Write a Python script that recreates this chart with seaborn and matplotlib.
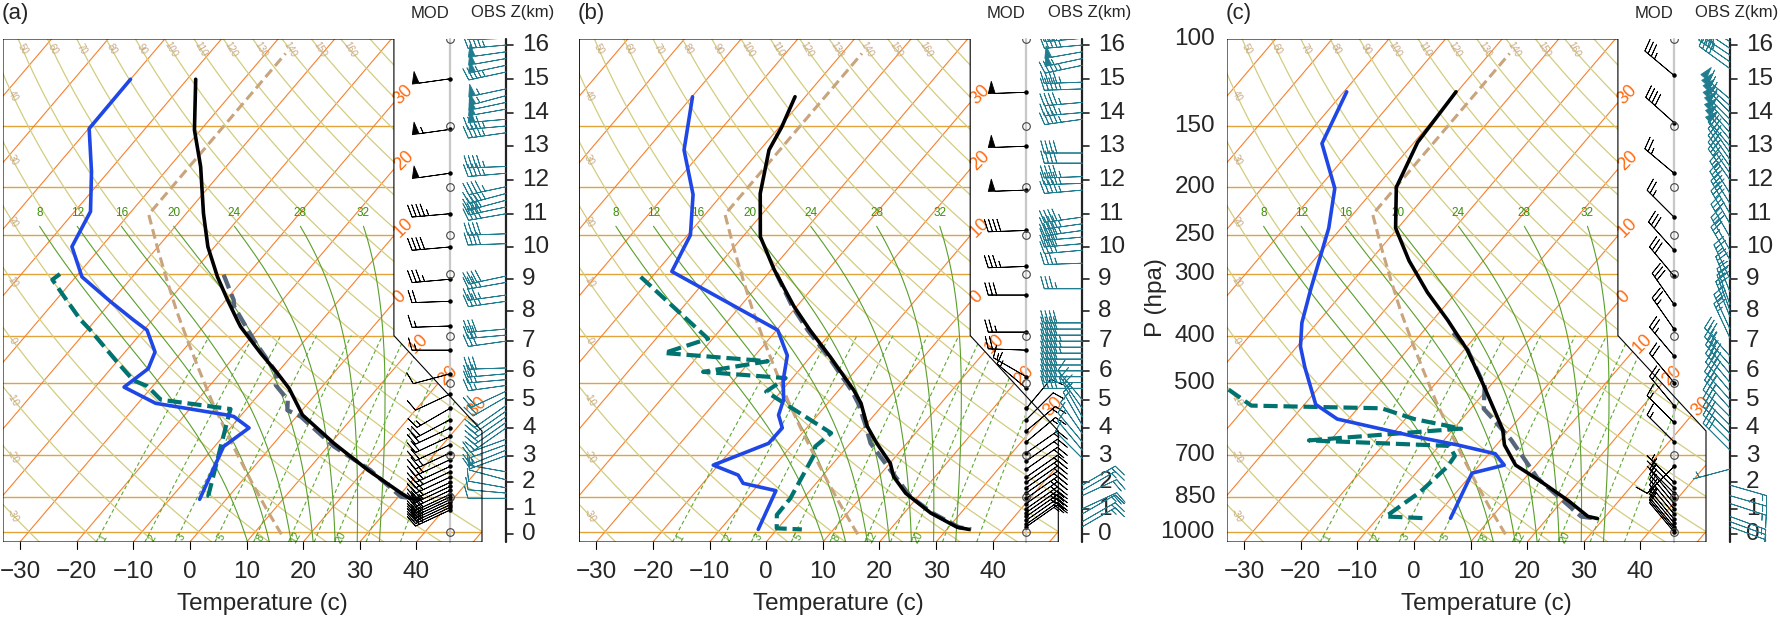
import numpy as np
import matplotlib
matplotlib.use("Agg")
import matplotlib.pyplot as plt
import seaborn as sns
from matplotlib.patches import Polygon

sns.set_theme(style="white")
plt.rcParams["font.family"] = ["Liberation Sans", "DejaVu Sans"]

# ---------------------------------------------------------------- data
# standard atmosphere reference curve (tan dashed)
std_p = [1013, 899, 795, 701, 617, 541, 472, 411, 357, 308, 265, 227, 107]
std_T = [15.0, 8.5, 2.0, -4.5, -11.0, -17.5, -24.0, -30.5, -37.0, -43.5, -50.0, -56.5, -56.5]

# panel (a)
a_T_p = [120.7, 153, 181.6, 225.8, 264, 303.8, 338.8, 372, 383.8, 434.9, 477, 511.8, 579.9, 662, 750, 836, 856, 860]
a_T = [-68.5, -61.1, -54.5, -47.0, -41.2, -35.0, -29.7, -25.0, -23.4, -15.8, -9.9, -5.6, 0.8, 10.6, 20.6, 30.0, 32.2, 34.2]
a_To_p = [301, 339, 349, 409, 474, 489, 504.5, 540, 567, 584, 672, 750, 850, 860]
a_To = [-34.2, -28.6, -27.6, -19.0, -10.4, -9.2, -8.4, -4.1, -2.6, 0.7, 11.1, 21.0, 30.5, 34.5]
a_Td_p = [120.7, 152, 186, 224, 264, 304, 341, 372, 390, 432, 467, 509, 549, 580, 584, 616, 672, 860]
a_Td = [-80.0, -79.9, -73.0, -67.2, -65.2, -58.9, -50.2, -43.3, -39.4, -34.7, -33.4, -34.9, -26.9, -12.5, -11.1, -6.7, -8.4, -4.7]
a_Tdo_p = [300, 308, 339, 371, 390, 454, 493, 507, 540, 564, 580, 672, 846, 860]
a_Tdo = [-63.2, -63.7, -58.1, -52.8, -49.4, -39.7, -34.3, -30.9, -26.5, -12.8, -12.2, -8.9, -3.7, -2.2]

# panel (b)
b_T_p = [131, 151, 168, 206, 252, 294, 349, 390, 442, 516, 549, 612, 662, 727, 774, 836, 917, 980, 990]
b_T = [-61.8, -59.6, -58.4, -53.4, -46.9, -39.5, -30.5, -24.1, -16.5, -7.4, -4.1, 0.5, 4.7, 10.1, 12.7, 17.3, 24.7, 31.5, 33.9]
b_To_p = [299, 349, 390, 442, 516, 549, 607, 662, 750, 850, 917, 980, 990]
b_To = [-38.6, -30.8, -24.5, -16.8, -7.8, -4.6, -0.1, 3.6, 11.1, 18.7, 25.0, 31.8, 34.3]
b_Td_p = [131, 168, 207, 250, 296.5, 390, 439, 493, 540, 580, 616, 662, 733, 768, 798, 826, 990]
b_Td = [-79.9, -73.4, -65.1, -59.5, -57.3, -29.8, -24.3, -21.3, -18.3, -16.9, -14.3, -14.4, -20.9, -15.0, -12.9, -6.0, -3.3]
b_Tdo_p = [304, 406, 434, 451, 474, 488, 520, 631, 672, 695, 856, 925, 985, 990]
b_Tdo = [-62.0, -40.8, -46.4, -26.9, -36.7, -21.2, -22.6, -4.9, -5.7, -4.7, -2.3, -2.2, -0.2, 4.4]

# panel (c)
c_T_p = [128, 162, 200, 242, 282, 327, 372, 395, 428, 500, 567, 621, 667, 733, 792, 866, 932, 941]
c_T = [-60.2, -59.4, -56.4, -50.4, -43.1, -35.1, -27.4, -24.0, -19.4, -11.7, -5.6, -1.2, 1.4, 6.4, 13.4, 21.1, 26.9, 28.9]
c_To_p = [395, 421, 507, 563, 651, 682, 780, 932, 940]
c_To = [-24.5, -20.2, -10.9, -7.7, 1.8, 4.5, 12.3, 25.7, 28.3]
c_Td_p = [128, 163, 201, 242, 322, 377, 421, 464, 552, 591, 641, 667, 695, 733, 761, 940]
c_Td = [-79.5, -76.1, -67.1, -62.2, -56.2, -52.7, -49.4, -45.5, -38.0, -32.0, -15.8, -6.9, 1.1, 4.4, -0.1, 2.9]
c_Tdo_p = [490, 512, 555, 562, 591, 618, 653, 670, 702, 738, 830, 932, 940]
c_Tdo = [-64.0, -56.1, -49.2, -25.8, -18.4, -8.7, -33.8, -8.2, -5.7, -5.4, -6.4, -8.8, -1.1]

# winds: height (km), speed (kt), direction (deg)
a_mod_z = [15.0, 13.5, 12.2, 11.0, 10.0, 9.0, 8.3, 7.5, 6.7, 5.9, 5.2, 4.7, 4.3, 4.0, 3.7, 3.4, 3.1, 2.85, 2.6, 2.4,
           2.2, 2.0, 1.85, 1.7, 1.55, 1.45, 1.35, 1.25, 1.15, 1.05, 0.95]
a_mod_spd = [50, 55, 50, 45, 40, 35, 20, 15, 15, 10, 10, 15, 20, 20, 20, 20, 25, 25, 25, 25,
             25, 25, 25, 25, 25, 25, 25, 25, 25, 25, 25]
a_mod_dir = [262, 262, 262, 265, 265, 265, 268, 268, 270, 255, 245, 240, 242, 245, 245, 245, 245, 245, 245, 245,
             245, 245, 245, 245, 245, 245, 245, 245, 245, 245, 245]
a_obs_z = [16.2, 16.0, 15.8, 15.6, 15.4, 15.2, 14.7, 14.5, 14.3, 14.1, 13.8, 13.6, 13.4, 12.4, 12.2,
           11.8, 11.6, 11.4, 11.2, 11.0, 10.4, 10.1, 9.1, 8.9, 8.5, 8.3, 7.4, 7.2, 7.0, 6.1, 5.9, 5.7, 5.5,
           5.3, 5.1, 4.8, 4.6, 4.4, 4.2, 4.0, 3.6, 3.4, 3.2, 3.0, 2.4, 2.1, 1.8, 1.6, 1.4]
a_obs_spd = [45, 45, 50, 50, 50, 45, 55, 55, 50, 50, 50, 45, 45, 45, 45, 45, 45, 40, 40, 40, 40, 40, 40, 35,
             35, 35, 30, 30, 30, 30, 30, 25, 25, 20, 20, 20, 20, 20, 20, 20, 15, 15, 15, 15, 15, 10, 10, 10, 10]
a_obs_dir = [268, 265, 262, 260, 258, 258, 258, 255, 258, 260, 265, 265, 262, 268, 265, 258, 255, 255, 258, 260,
             268, 268, 258, 260, 262, 262, 265, 265, 262, 268, 265, 265, 262, 245, 240, 235, 235, 235, 235, 235,
             250, 250, 248, 250, 280, 285, 280, 275, 270]

b_mod_z = [14.6, 13.0, 11.7, 10.5, 9.4, 8.5, 7.3, 6.7, 5.8, 5.4, 4.7, 4.3, 3.9, 3.5, 3.1, 2.8, 2.5, 2.2, 2.0, 1.8,
           1.6, 1.4, 1.2, 1.0, 0.85, 0.7, 0.55, 0.4, 0.3]
b_mod_spd = [50, 50, 50, 40, 35, 30, 25, 20, 15, 15, 10, 10, 15, 15, 15, 15, 20, 20, 20, 20,
             20, 25, 25, 25, 25, 25, 20, 20, 15]
b_mod_dir = [268, 268, 268, 268, 268, 270, 270, 272, 300, 310, 40, 45, 50, 50, 55, 55, 55, 55, 55, 55,
             55, 55, 55, 55, 55, 55, 55, 55, 55]
b_obs_z = [16.2, 16.0, 15.8, 15.6, 15.4, 14.9, 14.7, 14.3, 14.0, 13.8, 12.8, 12.5, 12.1, 11.9, 11.7, 10.9, 10.7,
           10.5, 10.3, 10.1, 9.9, 9.5, 8.7, 7.6, 7.4, 7.2, 7.0, 6.8, 6.6, 6.4, 6.2, 6.0, 5.8, 5.6, 5.4,
           5.0, 4.7, 4.4, 4.1, 3.8, 3.5, 3.2, 2.9, 1.9, 1.7, 1.5, 1.0, 0.8, 0.5, 0.3]
b_obs_spd = [45, 45, 50, 50, 45, 45, 45, 45, 45, 45, 40, 40, 45, 45, 45, 45, 45, 45, 40, 40, 40, 35, 35,
             40, 40, 40, 45, 45, 45, 40, 40, 40, 45, 45, 40, 10, 15, 15, 15, 10, 10, 10, 10,
             15, 15, 20, 20, 15, 15, 15]
b_obs_dir = [265, 265, 260, 258, 258, 268, 268, 265, 265, 262, 270, 270, 268, 268, 265, 262, 262, 262, 265, 265,
             265, 268, 270, 270, 270, 270, 270, 270, 270, 270, 270, 270, 270, 270, 270,
             320, 325, 330, 330, 325, 320, 320, 315, 60, 60, 65, 65, 60, 60, 60]

c_mod_z = [15.1, 13.7, 12.2, 10.9, 9.9, 9.1, 8.2, 7.4, 6.5, 5.6, 4.8, 4.2, 3.5, 2.6, 2.0, 1.8, 1.6, 1.4, 1.2, 1.0,
           0.8, 0.6, 0.45, 0.3, 0.2, 0.1]
c_mod_spd = [35, 40, 25, 25, 30, 30, 30, 25, 25, 20, 20, 15, 15, 10, 5, 5, 5, 10, 10, 10, 10, 10, 10, 10, 10, 10]
c_mod_dir = [310, 312, 310, 315, 318, 320, 325, 325, 320, 320, 320, 315, 315, 225, 315, 315, 315, 320, 320, 320,
             320, 320, 320, 320, 320, 320]
c_obs_z = [16.3, 16.1, 15.9, 15.7, 15.5, 15.3, 14.4, 14.2, 14.0, 13.8, 13.6, 13.4, 13.2, 13.0, 12.8, 12.6, 12.4,
           12.2, 12.0, 11.6, 11.3, 11.0, 10.7, 10.3, 9.9, 9.6, 9.0, 8.6, 8.2, 8.0, 7.8, 7.4, 7.1, 6.5, 6.2, 5.9,
           5.6, 5.3, 5.0, 4.7, 4.4, 4.1, 3.8, 3.5, 3.2, 2.5, 1.9, 1.5, 1.2, 0.7, 0.5, 0.3]
c_obs_spd = [40, 40, 40, 45, 45, 40, 60, 65, 65, 60, 60, 55, 55, 50, 35, 35, 35, 30, 30, 30, 30, 30, 30, 30, 30, 25,
             25, 25, 25, 25, 25, 25, 25, 35, 35, 40, 40, 40, 35, 35, 35, 35, 30, 30, 30, 5, 15, 15, 15, 15, 10, 10]
c_obs_dir = [300, 302, 304, 304, 305, 306, 310, 312, 315, 315, 318, 318, 320, 320, 325, 325, 325, 325, 325,
             328, 328, 330, 330, 330, 330, 330, 335, 338, 340, 340, 338, 335, 335,
             318, 318, 320, 320, 320, 318, 318, 315, 315, 315, 315, 315, 255, 106, 106, 108, 110, 110, 110]

x_ticks = [-30, -20, -10, 0, 10, 20, 30, 40]
p_ticks = [100, 150, 200, 250, 300, 400, 500, 700, 850, 1000]
z_ticks = list(range(0, 17))
isobars = [1000, 850, 700, 500, 400, 300, 250, 200, 150]
moist_vals = [8, 12, 16, 20, 24, 28, 32]
mix_vals = [1, 2, 3, 5, 8, 12, 20]
mix_extra = [16, 28, 40]

# ---------------------------------------------------------------- geometry
W, H, DPI = 1780, 621, 100
fig = plt.figure(figsize=(W / DPI, H / DPI), dpi=DPI)
fig.patch.set_facecolor("white")


def skewty(p):
    return 132.182 - 44.061 * np.log10(p)


def skewtx(t, y):
    return 0.54 * np.asarray(t, float) + 0.90692 * np.asarray(y, float)


def z2p(z):
    z = np.asarray(z, float) * 1000.0
    lo = 1013.25 * np.clip(1 - 2.25577e-5 * z, 1e-6, None) ** 5.25588
    hi = 226.32 * np.exp(-(z - 11000.0) / 6341.6)
    return np.where(z <= 11000, lo, hi)


YB, YT = skewty(1050.0), skewty(100.0)
XMIN = float(skewtx(-33.0, YB))
XMAX = float(skewtx(50.0, skewty(1000.0)))
KINKX = float(skewtx(5.0, skewty(400.0)))
Y400, Y625 = skewty(400.0), skewty(625.0)
TOP, BOT = 39.0, 542.0
SX = 479.0 / (XMAX - XMIN)
SY = (BOT - TOP) / (YT - YB)
AW = 552.0


def dTdp(T, p):
    Rd, cp, Lv, eps = 287.04, 1005.7, 2.501e6, 0.622
    es = 6.112 * np.exp(17.67 * (T - 273.15) / (T - 29.65))
    rs = eps * es / (p - es)
    return (Rd * T + Lv * rs) / (p * (cp + Lv * Lv * rs * eps / (Rd * T * T)))


def integ(t0, p0, p1, n):
    pp = np.linspace(p0, p1, n)
    T = t0 + 273.15
    out = [T]
    for i in range(n - 1):
        h = pp[i + 1] - pp[i]
        k1 = dTdp(T, pp[i])
        k2 = dTdp(T + 0.5 * h * k1, pp[i] + 0.5 * h)
        k3 = dTdp(T + 0.5 * h * k2, pp[i] + 0.5 * h)
        k4 = dTdp(T + h * k3, pp[i + 1])
        T = T + h * (k1 + 2 * k2 + 2 * k3 + k4) / 6
        out.append(T)
    return pp, np.array(out) - 273.15


def moist(thw):
    pu, tu = integ(thw, 1000.0, 240.0, 153)
    pd, td = integ(thw, 1000.0, 1050.0, 11)
    return np.concatenate([pd[::-1], pu[1:]]), np.concatenate([td[::-1], tu[1:]])


def mixT(w, p):
    e = w * p / (622.0 + w)
    le = np.log(e / 6.112)
    return 243.5 * le / (17.67 - le)


C_ISOBAR = "#e0a43a"
C_ISOTH = "#f7802c"
C_DRY = "#d3cc80"
C_MOIST = "#5a9e2c"
C_MIX = "#5fa832"
C_OBSW = "#1f7d8f"
BARB_LEN = 7.4
BARB_SIZES = dict(height=0.32, spacing=0.11, width=0.18)


def uv(spd, dr):
    spd = np.asarray(spd, float)
    d = np.deg2rad(np.asarray(dr, float))
    return -spd * np.sin(d), -spd * np.cos(d)


def panel(off, tag, profs, mod, obs, yaxis=False):
    L = 3.0 + off
    ax = fig.add_axes([L / W, 1 - BOT / H, AW / W, (BOT - TOP) / H])
    ax.set_facecolor("none")

    def dx(rel):
        return XMIN + (rel - 3.0) / SX

    def dy(py):
        return YT - (py - TOP) / SY

    frame = Polygon([(XMIN, YT), (XMIN, YB), (XMAX, YB), (XMAX, Y625), (KINKX, Y400), (KINKX, YT)],
                    closed=True, fill=False, edgecolor="black", lw=0.8, zorder=8)
    ax.add_patch(frame)

    def clip(ln):
        ln.set_clip_path(frame)

    # isobars
    for p in isobars:
        y = skewty(p)
        clip(ax.plot([XMIN, XMAX], [y, y], color=C_ISOBAR, lw=1.0, zorder=1)[0])
    # isotherms
    ys = np.array([YB, YT])
    for t in range(-100, 60, 10):
        clip(ax.plot(skewtx(t, ys), ys, color=C_ISOTH, lw=0.8, zorder=1)[0])
    for t in [-30, -20, -10, 0]:
        y = (KINKX - 0.54 * t) / 0.90692
        ax.text(KINKX + 0.25, y + 0.1, str(abs(t)), color="#ff6a10", fontsize=13, rotation=45,
                rotation_mode="anchor", ha="left", va="center")
    s = (XMAX - KINKX) / (Y625 - Y400)
    for t in [10, 20, 30]:
        y = (KINKX - s * Y400 - 0.54 * t) / (0.90692 - s)
        ax.text(float(skewtx(t, y)) + 0.25, y + 0.1, str(t), color="#ff6a10", fontsize=13, rotation=45,
                rotation_mode="anchor", ha="left", va="center")
    # dry adiabats
    ps = np.logspace(np.log10(1050.0), 2.0, 220)
    yps = skewty(ps)
    for th in range(-30, 180, 10):
        T = (th + 273.15) * (ps / 1000.0) ** 0.286 - 273.15
        xs = skewtx(T, yps)
        clip(ax.plot(xs, yps, color=C_DRY, lw=0.9, zorder=1)[0])
        if 50 <= th <= 160:
            yl = YT - 0.95
            pl = 10 ** ((132.182 - yl) / 44.061)
            Tl = (th + 273.15) * (pl / 1000.0) ** 0.286 - 273.15
            ax.text(float(skewtx(Tl, yl)), yl, str(th), color="#c9a986", fontsize=7, rotation=-60,
                    ha="center", va="center")
        elif th <= 40:
            order = np.argsort(xs)
            pl = np.interp(XMIN + 0.95, xs[order], ps[order])
            yl = skewty(pl)
            Tl = (th + 273.15) * (pl / 1000.0) ** 0.286 - 273.15
            ax.text(float(skewtx(Tl, yl)), yl, str(th), color="#c9a986", fontsize=7,
                    rotation=-60, ha="center", va="center")
    # moist adiabats
    for thw in moist_vals:
        pm, tm = moist(thw)
        ym = skewty(pm)
        xm = skewtx(tm, ym)
        clip(ax.plot(xm, ym, color=C_MOIST, lw=0.8, zorder=2)[0])
        ax.text(xm[-1], ym[-1] + 1.15, str(thw), color="#3d8c0a", fontsize=8.5, ha="center", va="center")
    # mixing ratio lines
    pmx = np.linspace(1050.0, 400.0, 60)
    ymx = skewty(pmx)
    for w in mix_vals + mix_extra:
        ln = ax.plot(skewtx(mixT(w, pmx), ymx), ymx, color=C_MIX, lw=0.8, zorder=2)[0]
        ln.set_dashes((3.5, 2.5))
        clip(ln)
        if w in mix_vals:
            yl = skewty(1028.0)
            ax.text(float(skewtx(mixT(w, 1028.0), yl)) + 0.45, yl, str(w), color="#4a9a1a", fontsize=7.5,
                    rotation=60, ha="center", va="center")

    # profiles
    for p, T, col, lw, dash, zo in profs:
        y = skewty(np.asarray(p, float))
        x = skewtx(T, y)
        n0 = len(ax.lines)
        sns.lineplot(x=x, y=y, sort=False, estimator=None, color=col, lw=lw, ax=ax, legend=False)
        ln = ax.lines[n0]
        ln.set_zorder(zo)
        if dash:
            ln.set_dashes(dash)
            ln.set_dash_capstyle("butt")
        else:
            ln.set_solid_joinstyle("round")
        clip(ln)

    # bottom axis
    for t in x_ticks:
        x = float(skewtx(t, YB))
        ax.plot([x, x], [YB, YB - 6.5 / SY], color="black", lw=0.8, clip_on=False, zorder=8)
        lab = ("\u2212" + str(-t)) if t < 0 else str(t)
        ax.text(x, dy(572), lab, fontsize=17.5, ha="center", va="center")
    ax.text(dx(262), dy(604), "Temperature (c)", fontsize=17.5, ha="center", va="center")

    if yaxis:
        for p in p_ticks:
            ax.text(dx(-9), skewty(p), str(p), fontsize=17.5, ha="right", va="center")
        ax.text(dx(-68), dy(298), "P (hpa)", fontsize=17.5, rotation=90, ha="center", va="center")

    # MOD wind column
    xm = dx(450)
    ax.plot([xm, xm], [YB, YT], color="#c8c8c8", lw=1.6, zorder=3, clip_on=False)
    mz, ms, md = mod
    ymz = skewty(z2p(mz))
    u, v = uv(ms, md)
    ax.barbs(np.full(len(mz), xm), ymz, u, v, length=BARB_LEN, pivot="tip", color="black", linewidth=0.6,
             sizes=BARB_SIZES, zorder=7)
    ax.plot(np.full(len(mz), xm), ymz, "o", ms=2.2, color="black", zorder=7)
    ax.plot(np.full(len(p_ticks), xm), skewty(np.array(p_ticks, float)), "o", ms=5.5, mfc="none",
            mec="#444444", mew=0.8, zorder=7)

    # OBS wind column and height axis
    xo = dx(506)
    ax.plot([xo, xo], [YB, YT], color="#222222", lw=1.6, zorder=6, clip_on=False)
    for z in z_ticks:
        yz = float(skewty(z2p(z)))
        ax.plot([xo, xo + 7.0 / SX], [yz, yz], color="#222222", lw=1.2, zorder=6, clip_on=False)
        ax.text(dx(522), yz, str(z), fontsize=17.5, ha="left", va="center")
    oz, osp, od = obs
    yoz = skewty(z2p(oz))
    u, v = uv(osp, od)
    ax.barbs(np.full(len(oz), xo), yoz, u, v, length=BARB_LEN, pivot="tip", color=C_OBSW, linewidth=0.6,
             sizes=BARB_SIZES, zorder=7)

    ax.text(dx(430), dy(13), "MOD", fontsize=12, ha="center", va="center")
    ax.text(dx(513), dy(13), "OBS Z(km)", fontsize=12, ha="center", va="center")
    ax.text(dx(15), dy(13), tag, fontsize=16, ha="center", va="center")

    ax.set_xlim(XMIN, XMIN + AW / SX)
    ax.set_ylim(YB, YT)
    ax.axis("off")
    return ax


def profset(Tp, T, Top, To, Tdp, Td, Tdop, Tdo):
    return [
        (std_p, std_T, "#c9a47c", 2.2, (3.2, 1.6), 3),
        (Tdop, Tdo, "#007370", 3.0, (3.4, 1.4), 4),
        (Tdp, Td, "#1f47e6", 2.6, None, 5),
        (Top, To, "#56667a", 3.1, (3.4, 1.4), 4),
        (Tp, T, "black", 2.6, None, 5),
    ]


panel(0.0, "(a)", profset(a_T_p, a_T, a_To_p, a_To, a_Td_p, a_Td, a_Tdo_p, a_Tdo),
      (a_mod_z, a_mod_spd, a_mod_dir), (a_obs_z, a_obs_spd, a_obs_dir))
panel(576.3, "(b)", profset(b_T_p, b_T, b_To_p, b_To, b_Td_p, b_Td, b_Tdo_p, b_Tdo),
      (b_mod_z, b_mod_spd, b_mod_dir), (b_obs_z, b_obs_spd, b_obs_dir))
panel(1224.0, "(c)", profset(c_T_p, c_T, c_To_p, c_To, c_Td_p, c_Td, c_Tdo_p, c_Tdo),
      (c_mod_z, c_mod_spd, c_mod_dir), (c_obs_z, c_obs_spd, c_obs_dir), yaxis=True)

fig.savefig("out.png", dpi=DPI, facecolor="white")
